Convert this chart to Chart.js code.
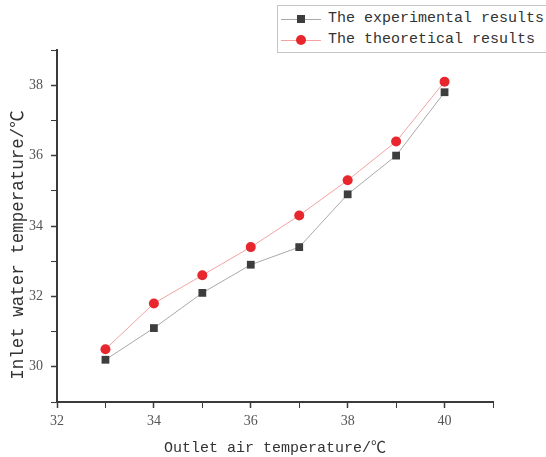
<!DOCTYPE html>
<html>
<head>
<meta charset="utf-8">
<script src="https://cdn.jsdelivr.net/npm/chart.js@4"></script>
<style>
  body { margin: 0; background: #fff; }
  #wrap { position: relative; width: 546px; height: 457px; }
  #legend {
    position: absolute; left: 277px; top: 5px; width: 280px; height: 46px;
    border: 1px solid #c4c4c4; background: #fff;
    font: 15px "Liberation Mono", monospace; color: #333;
  }
  .row { position: absolute; left: 0; height: 20px; line-height: 20px; white-space: nowrap; }
  .sample { position: absolute; left: 3px; top: 10px; width: 40px; height: 1px; }
  .mk { position: absolute; }
  .txt { position: absolute; left: 50px; top: 0; }
</style>
</head>
<body>
<div id="wrap">
  <canvas id="chart" width="546" height="457"></canvas>
  <div id="legend">
    <div class="row" style="top:3px">
      <div class="sample" style="background:#a9a9a9"></div>
      <div class="mk" style="left:19px;top:6px;width:8px;height:8px;background:#3d3d3d"></div>
      <div class="txt">The experimental results</div>
    </div>
    <div class="row" style="top:24px">
      <div class="sample" style="background:#f2a3a3"></div>
      <div class="mk" style="left:18px;top:5px;width:10px;height:10px;border-radius:50%;background:#e8262d"></div>
      <div class="txt">The theoretical results</div>
    </div>
  </div>
</div>
<script>
var temps = [33, 34, 35, 36, 37, 38, 39, 40];
var experimental = [30.2, 31.1, 32.1, 32.9, 33.4, 34.9, 36.0, 37.8];
var theoretical = [30.5, 31.8, 32.6, 33.4, 34.3, 35.3, 36.4, 38.1];
var xTitle = "Outlet air temperature/℃";
var yTitle = "Inlet water temperature/℃";

function pts(vals) {
  return temps.map(function (t, i) { return { x: t, y: vals[i] }; });
}

var axisColor = "#3a3a3a";
var monoFamily = "'Liberation Mono', 'Noto Sans CJK SC', monospace";
var tickFont = { family: "'Liberation Serif', serif", size: 14 };
var titleFont = { family: monoFamily, size: 15 };

// y title is drawn by hand: in the original it sits lower than the axis middle
var yTitlePlugin = {
  id: 'yTitle',
  afterDraw: function (chart) {
    var c = chart.ctx;
    c.save();
    c.translate(18, 245);
    c.rotate(-Math.PI / 2);
    c.font = "17.5px " + monoFamily;
    c.fillStyle = "#333";
    c.textAlign = "center";
    c.textBaseline = "middle";
    c.fillText(yTitle, 0, 0);
    c.restore();
  }
};

var ctx = document.getElementById("chart");
var myChart = new Chart(ctx, {
  type: 'line',
  data: {
    datasets: [
      {
        label: "The experimental results",
        data: pts(experimental),
        borderColor: "#a9a9a9",
        borderWidth: 1,
        pointStyle: 'rect',
        pointRadius: 5.5,
        pointBackgroundColor: "#3d3d3d",
        pointBorderWidth: 0,
        tension: 0
      },
      {
        label: "The theoretical results",
        data: pts(theoretical),
        borderColor: "#f2a3a3",
        borderWidth: 1,
        pointStyle: 'circle',
        pointRadius: 5,
        pointBackgroundColor: "#e8262d",
        pointBorderWidth: 0,
        tension: 0
      }
    ]
  },
  plugins: [yTitlePlugin],
  options: {
    responsive: false,
    animation: false,
    layout: { padding: { top: 50, right: 53, left: 0, bottom: 0 } },
    plugins: {
      legend: { display: false },
      tooltip: { enabled: false }
    },
    scales: {
      x: {
        type: 'linear',
        min: 32, max: 41,
        afterFit: function (s) { s.height = 55; },
        border: { color: axisColor, width: 2 },
        grid: {
          drawOnChartArea: false,
          tickLength: 6,
          tickColor: axisColor,
          tickWidth: function (c) { return c.tick.value % 2 === 0 ? 1.5 : 1; }
        },
        ticks: {
          stepSize: 1,
          padding: 5,
          color: "#555",
          font: tickFont,
          maxRotation: 0,
          callback: function (v) { return (v % 2 === 0 && v < 41) ? v : ''; }
        },
        title: { display: true, text: xTitle, color: "#333", font: titleFont, padding: { top: 0, bottom: 0 } }
      },
      y: {
        min: 29, max: 39,
        afterFit: function (s) { s.width = 57; },
        border: { color: axisColor, width: 2 },
        grid: {
          drawOnChartArea: false,
          tickLength: 6,
          tickColor: axisColor,
          tickWidth: function (c) { return c.tick.value % 2 === 0 ? 1.5 : 1; }
        },
        ticks: {
          stepSize: 1,
          padding: 8,
          color: "#555",
          font: tickFont,
          callback: function (v) { return (v % 2 === 0) ? v : ''; }
        },
        title: { display: false }
      }
    }
  }
});
</script>
</body>
</html>
